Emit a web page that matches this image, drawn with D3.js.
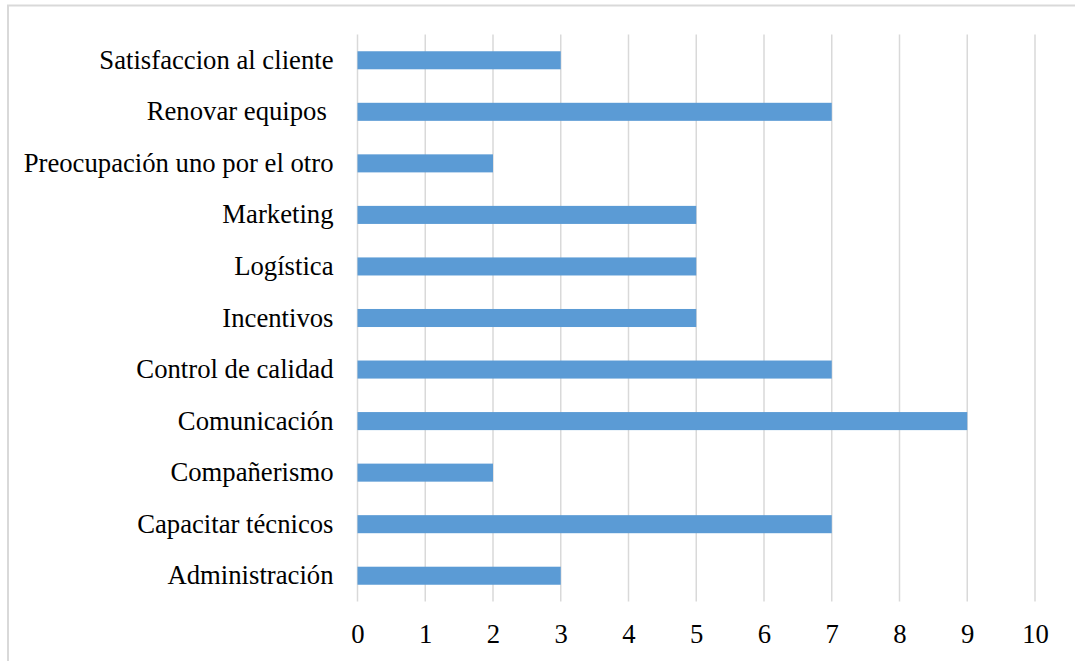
<!DOCTYPE html>
<html>
<head>
<meta charset="utf-8">
<script src="https://cdn.jsdelivr.net/npm/d3@7"></script>
<style>
  body { margin: 0; background: #fff; }
</style>
</head>
<body>
<div class="chartArea"></div>
<script>
const categories = ["Satisfaccion al cliente", "Renovar equipos ", "Preocupación uno por el otro", "Marketing",
  "Logística", "Incentivos", "Control de calidad", "Comunicación", "Compañerismo", "Capacitar técnicos", "Administración"];
const values = [3, 7, 2, 5, 5, 5, 7, 9, 2, 7, 3];
const xTicks = [0, 1, 2, 3, 4, 5, 6, 7, 8, 9, 10];

const width = 1075;
const height = 661;
const plotLeft = 357.5, plotRight = 1035, plotTop = 34.5, plotBottom = 601.5;
const fontStack = "'Liberation Serif', 'Times New Roman', 'DejaVu Serif', serif";

const svg = d3.select(".chartArea")
    .append("svg")
    .attr("width", width)
    .attr("height", height);

// outer frame
svg.append("rect")
    .attr("x", 8).attr("y", 5.5)
    .attr("width", 1100).attr("height", 700)
    .attr("fill", "none")
    .attr("stroke", "#d9d9d9")
    .attr("stroke-width", 2);

const xScale = d3.scaleLinear().domain([0, 10]).range([plotLeft, plotRight]);
const yScale = d3.scaleBand().domain(categories).range([plotTop, plotBottom]).paddingInner(0.65).paddingOuter(0.325);

// gridlines
svg.append("g")
    .selectAll("line")
    .data(xTicks)
    .enter()
    .append("line")
    .attr("x1", d => xScale(d)).attr("x2", d => xScale(d))
    .attr("y1", plotTop).attr("y2", plotBottom)
    .attr("stroke", "#d9d9d9")
    .attr("stroke-width", 1.5);

svg.selectAll("rect.bar")
    .data(values)
    .enter()
    .append("rect")
    .attr("class", "bar")
    .attr("x", xScale(0))
    .attr("y", (d, i) => yScale(categories[i]))
    .attr("width", d => xScale(d) - xScale(0))
    .attr("height", yScale.bandwidth())
    .attr("fill", "#5b9bd5");

const xAxis = d3.axisBottom(xScale).tickValues(xTicks).tickSize(0).tickPadding(23);
svg.append("g")
    .attr("transform", `translate(0,${plotBottom})`)
    .call(xAxis)
    .call(g => g.select(".domain").remove())
    .selectAll("text")
    .style("font-family", fontStack)
    .style("font-size", "26.7px")
    .style("fill", "#000");

const yAxis = d3.axisLeft(yScale).tickSize(0).tickPadding(24);
svg.append("g")
    .attr("transform", `translate(${plotLeft},0)`)
    .call(yAxis)
    .call(g => g.select(".domain").remove())
    .selectAll("text")
    .style("font-family", fontStack)
    .style("font-size", "26.7px")
    .style("fill", "#000")
    .style("white-space", "pre");
</script>
</body>
</html>
